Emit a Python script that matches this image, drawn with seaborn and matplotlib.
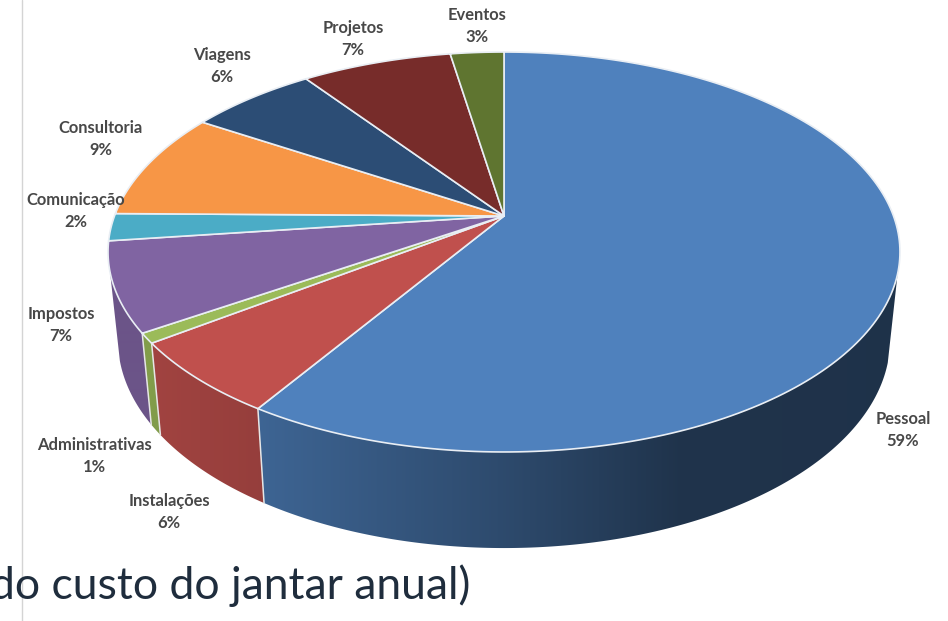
import numpy as np
import matplotlib
matplotlib.use("Agg")
import matplotlib.pyplot as plt
from matplotlib.patches import Polygon
import seaborn as sns

# ---- data ----
categorias = ["Pessoal", "Instalações", "Administrativas", "Impostos", "Comunicação",
              "Consultoria", "Viagens", "Projetos", "Eventos"]
valores = [59.0, 6.0, 0.8, 7.2, 2.2, 8.7, 6.2, 7.3, 2.6]
rotulos = ["59%", "6%", "1%", "7%", "2%", "9%", "6%", "7%", "3%"]
cores = ["#4f81bd", "#c0504d", "#9bbb59", "#8064a2", "#4bacc6",
         "#f79646", "#2c4d75", "#772c2a", "#5f7530"]

# ---- layout (pixels of the 948x621 picture) ----
label_xy = [(903, 430), (169, 512), (94, 456), (61, 325), (76, 211),
            (101, 139), (222, 66), (353, 39), (477, 26)]
CX, APEX_Y, RX, A, B = 504.0, 216.0, 389.5, 0.18, 193.5
SIDE_SX, SIDE_AY, SIDE_BY = 0.975, 1.04, 78.0
SHADE_X = [110, 150, 260, 500, 680, 900]
SHADE_F = [0.84, 0.84, 0.78, 0.58, 0.40, 0.39]
SIDE_MIN_Y = 272

sns.set_theme(style="white")
plt.rcParams["font.family"] = ["Lato", "DejaVu Sans"]
palette = sns.color_palette(cores)

fig = plt.figure(figsize=(9.48, 6.21), dpi=100)
ax = fig.add_axes([0, 0, 1, 1])
ax.axis("off")


def top(theta):
    """Point of the tilted disc rim; theta clockwise from twelve o'clock."""
    u, v = np.sin(theta), np.cos(theta)
    w = 1 + A * v
    return CX + RX * u / w, APEX_Y - B * v / w


def bottom(x, y):
    return CX + SIDE_SX * (x - CX), SIDE_AY * y + SIDE_BY


edges = np.concatenate([[0], np.cumsum(valores)]) / np.sum(valores) * 2 * np.pi

# thin rule behind everything
ax.plot([22.5, 22.5], [0, 621], color="#d4d4d4", lw=1.0, zorder=0)

# side wall: horizontal gradient clipped to each visible wedge wall
px = np.arange(948) + 0.5
shade = np.interp(px, SHADE_X, SHADE_F)
for i, col in enumerate(palette):
    t = np.linspace(edges[i], edges[i + 1], 400)
    x, y = top(t)
    keep = y >= SIDE_MIN_Y
    if keep.sum() < 2:
        continue
    xt, yt = x[keep], y[keep]
    xb, yb = bottom(xt, yt)
    poly = Polygon(np.c_[np.r_[xt, xb[::-1]], np.r_[yt, yb[::-1]]], closed=True,
                   transform=ax.transData, facecolor="none", edgecolor="none")
    ax.add_patch(poly)
    grad = shade[None, :, None] * np.array(col)[None, None, :]
    im = ax.imshow(grad, extent=(0, 948, 621, 0), aspect="auto", zorder=2,
                   interpolation="bilinear")
    im.set_clip_path(poly)

# bright edges between side walls
for i in range(len(valores)):
    x, y = top(edges[i])
    if y > 300:
        xb, yb = bottom(x, y)
        ax.plot([x, xb], [y, yb], color="#e6e6e6", lw=1.1, zorder=3)

# top face
for i, col in enumerate(palette):
    t = np.linspace(edges[i], edges[i + 1], 200)
    x, y = top(t)
    ax.fill(np.r_[CX, x], np.r_[APEX_Y, y], facecolor=col, edgecolor="#e9eef4",
            lw=1.2, joinstyle="round", zorder=4)

# labels
for nome, pct, (lx, ly) in zip(categorias, rotulos, label_xy):
    ax.text(lx, ly, f"{nome}\n{pct}", ha="center", va="center", fontsize=11.9,
            fontweight="bold", color="#484848", linespacing=1.52, zorder=6)

# slide text, cropped at the left edge as in the reference
ax.text(470, 599, "do custo do jantar anual)", ha="right", va="baseline",
        fontsize=32, color="#1f2d3d", zorder=6)

ax.set_xlim(0, 948)
ax.set_ylim(621, 0)
fig.savefig("out.png", dpi=100)
